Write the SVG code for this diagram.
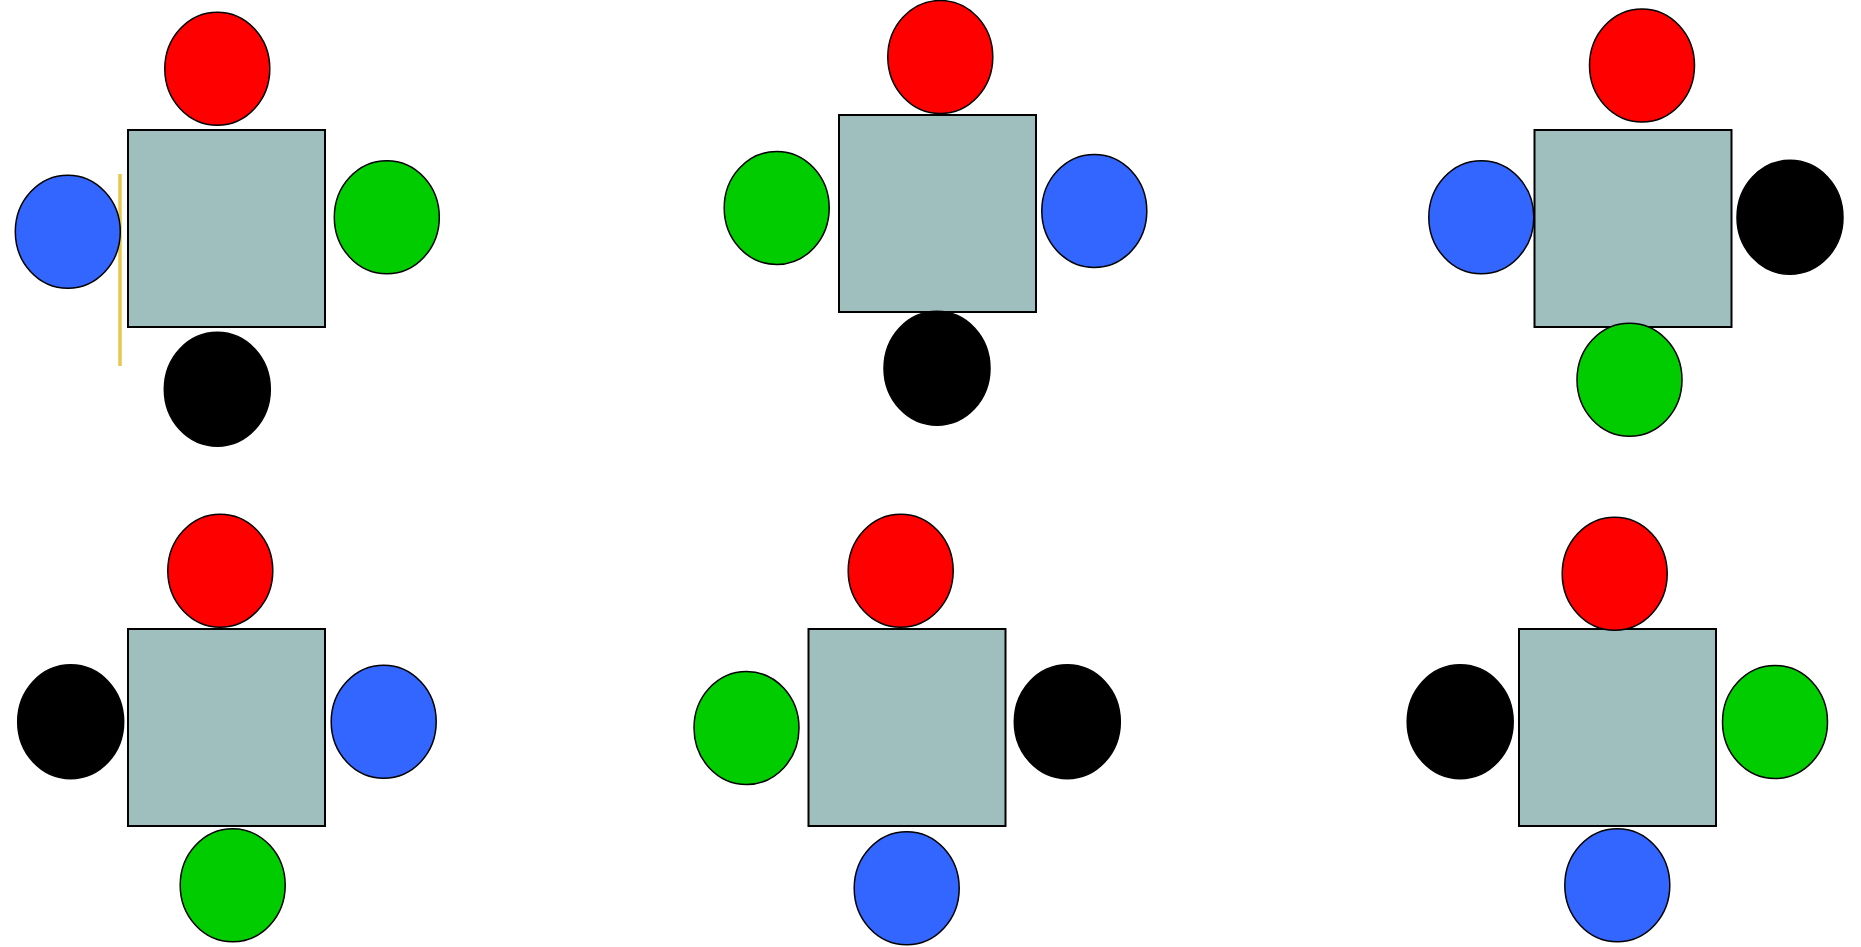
<svg xmlns="http://www.w3.org/2000/svg" width="1861" height="947" viewBox="0 0 1861 947">
<style>
.table{fill:#9FBFBF;stroke:#000;stroke-width:2}
.seat{stroke:#000;stroke-width:1.5}
.r{fill:#FF0000}
.g{fill:#00CC00}
.b{fill:#3366FF}
.k{fill:#000000}
.mark{stroke:#E6C84E;stroke-width:3.5;fill:none}
</style>
<defs>
<path id="e" d="M-52.5,0 C-52.5,-31.2 -29,-56.5 0,-56.5 C29,-56.5 52.5,-31.2 52.5,0 C52.5,31.2 29,56.5 0,56.5 C-29,56.5 -52.5,31.2 -52.5,0 Z"/>
<path id="ek" d="M-53,0 C-53,-31.5 -29.3,-57 0,-57 C29.3,-57 53,-31.5 53,0 C53,31.5 29.3,57 0,57 C-29.3,57 -53,31.5 -53,0 Z"/>
</defs>
<rect x="0" y="0" width="1861" height="947" fill="#FFFFFF"/>
<g id="connectors">
<line class="mark" x1="120" y1="174" x2="120" y2="366"/>
</g>
<g id="set1">
<g id="t1"><rect class="table" x="128" y="130" width="197" height="197"/></g>
<g id="s1-red"><use href="#e" class="seat r" x="217.3" y="68.7"/></g>
<g id="s1-blue"><use href="#e" class="seat b" x="67.8" y="231.8"/></g>
<g id="s1-green"><use href="#e" class="seat g" x="386.8" y="217.2"/></g>
<g id="s1-black"><use href="#ek" class="seat k" x="217.3" y="389.3"/></g>
</g>
<g id="set2">
<g id="t2"><rect class="table" x="839" y="115" width="197" height="197"/></g>
<g id="s2-red"><use href="#e" class="seat r" x="940.3" y="57"/></g>
<g id="s2-green"><use href="#e" class="seat g" x="776.7" y="208"/></g>
<g id="s2-blue"><use href="#e" class="seat b" x="1094.3" y="211"/></g>
<g id="s2-black"><use href="#ek" class="seat k" x="937" y="368.2"/></g>
</g>
<g id="set3">
<g id="t3"><rect class="table" x="1534.5" y="130" width="197" height="197"/></g>
<g id="s3-red"><use href="#e" class="seat r" x="1642" y="65.5"/></g>
<g id="s3-blue"><use href="#e" class="seat b" x="1481.3" y="217.2"/></g>
<g id="s3-black"><use href="#ek" class="seat k" x="1790" y="217.3"/></g>
<g id="s3-green"><use href="#e" class="seat g" x="1629.5" y="379.8"/></g>
</g>
<g id="set4">
<g id="t4"><rect class="table" x="128" y="629" width="197" height="197"/></g>
<g id="s4-red"><use href="#e" class="seat r" x="220.3" y="570.7"/></g>
<g id="s4-black"><use href="#ek" class="seat k" x="70.7" y="721.8"/></g>
<g id="s4-blue"><use href="#e" class="seat b" x="383.7" y="721.8"/></g>
<g id="s4-green"><use href="#e" class="seat g" x="232.7" y="885.3"/></g>
</g>
<g id="set5">
<g id="t5"><rect class="table" x="808.5" y="629" width="197" height="197"/></g>
<g id="s5-red"><use href="#e" class="seat r" x="900.7" y="570.7"/></g>
<g id="s5-green"><use href="#e" class="seat g" x="746.5" y="728"/></g>
<g id="s5-black"><use href="#ek" class="seat k" x="1067.3" y="721.8"/></g>
<g id="s5-blue"><use href="#e" class="seat b" x="906.7" y="888.3"/></g>
</g>
<g id="set6">
<g id="t6"><rect class="table" x="1519" y="629" width="197" height="197"/></g>
<g id="s6-red"><use href="#e" class="seat r" x="1614.7" y="573.7"/></g>
<g id="s6-black"><use href="#ek" class="seat k" x="1460.2" y="721.8"/></g>
<g id="s6-green"><use href="#e" class="seat g" x="1775" y="722"/></g>
<g id="s6-blue"><use href="#e" class="seat b" x="1617.3" y="885.3"/></g>
</g>
</svg>
